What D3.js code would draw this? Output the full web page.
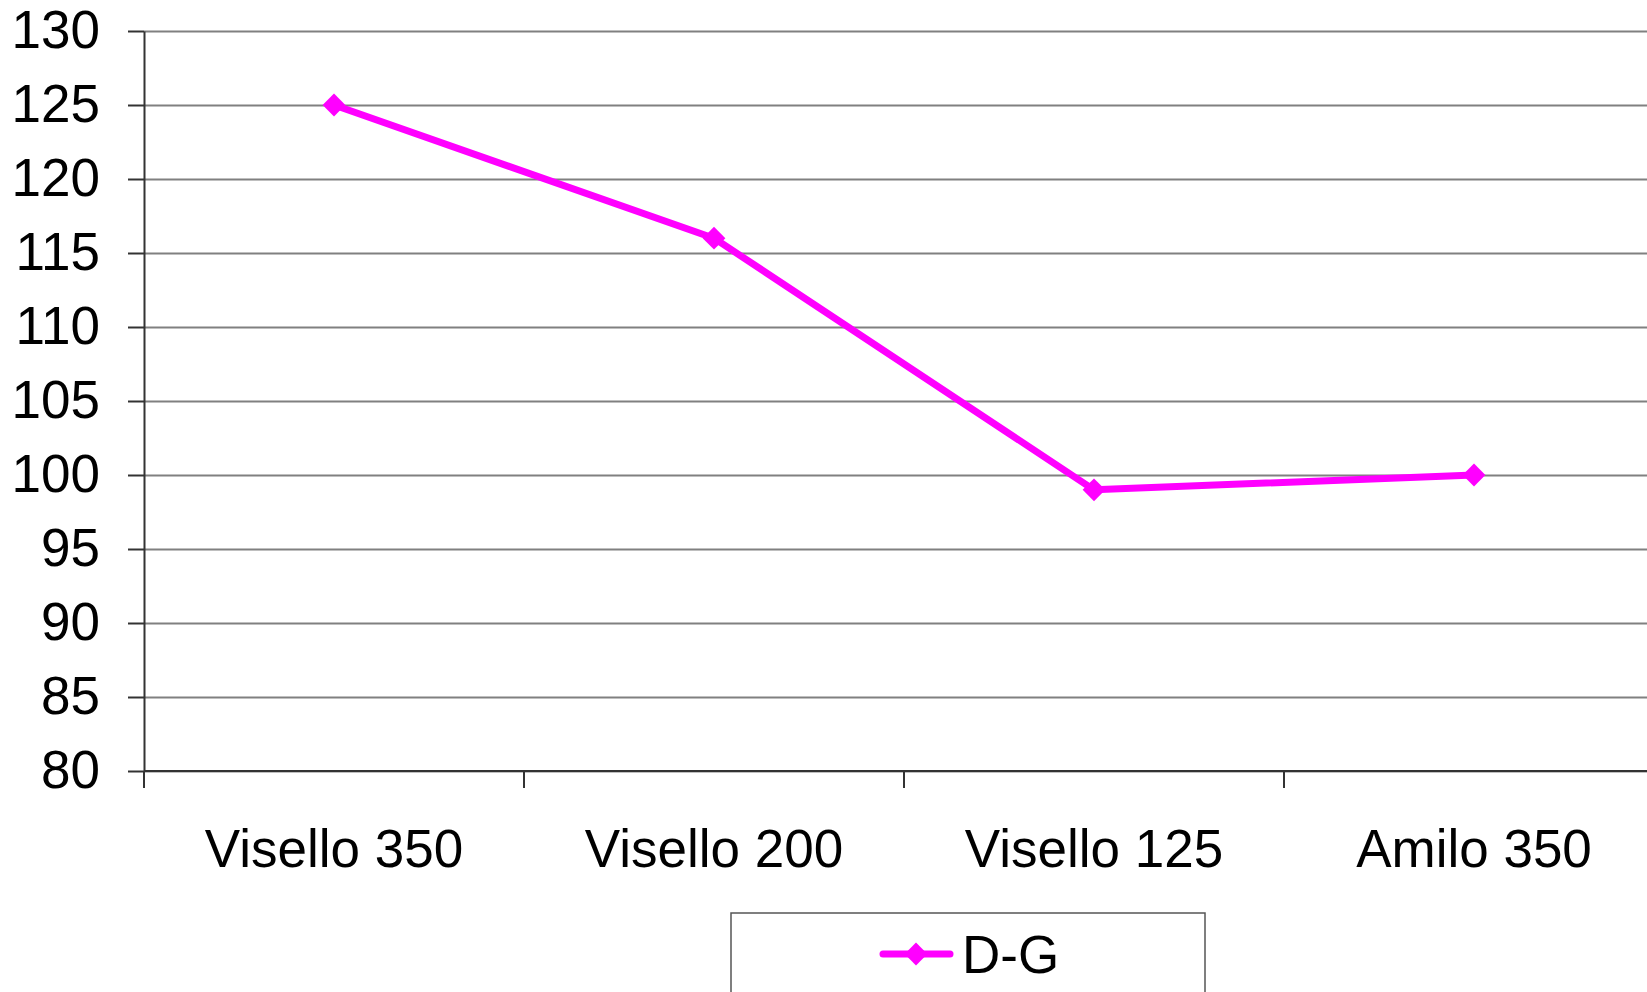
<!DOCTYPE html>
<html>
<head>
<meta charset="utf-8">
<script src="https://cdn.jsdelivr.net/npm/d3@7"></script>
<style>
  body { margin: 0; background: #fff; }
  svg { display: block; font-family: "Liberation Sans", Arial, sans-serif; }
</style>
</head>
<body>
<div id="chart"></div>
<script>
const categories = ["Visello 350", "Visello 200", "Visello 125", "Amilo 350"];
const seriesName = "D-G";
const values = [125, 116, 99, 100];
const yTicks = [80, 85, 90, 95, 100, 105, 110, 115, 120, 125, 130];

const width = 1647;
const height = 992;
const marginLeft = 144;
const plotRight = 1664;   // plot area runs past the right edge in the original
const plotTop = 31;
const plotBottom = 771;

const svg = d3.select("#chart")
    .append("svg")
    .attr("width", width)
    .attr("height", height);

const xScale = d3.scaleBand()
    .domain(categories)
    .range([marginLeft, plotRight])
    .padding(0);

const yScale = d3.scaleLinear()
    .domain([80, 130])
    .range([plotBottom, plotTop]);

// Gridlines
svg.append("g")
    .attr("transform", `translate(${marginLeft},0)`)
    .call(d3.axisLeft(yScale).tickValues(yTicks).tickSize(-(plotRight - marginLeft)).tickFormat(""))
    .call(g => g.select(".domain").remove())
    .call(g => g.selectAll("line").attr("stroke", "#808080").attr("stroke-width", 2));

// Y axis
const yAxis = svg.append("g")
    .attr("transform", `translate(${marginLeft},0)`)
    .call(d3.axisLeft(yScale).tickValues(yTicks).tickSize(16).tickPadding(28).tickSizeOuter(0));
yAxis.select(".domain").attr("stroke", "#333").attr("stroke-width", 2);
yAxis.selectAll("line").attr("stroke", "#333").attr("stroke-width", 2);
yAxis.selectAll("text")
    .attr("font-size", 53)
    .attr("fill", "#000")
    .attr("font-family", "Liberation Sans, Arial, sans-serif");

// X axis line
svg.append("line")
    .attr("x1", marginLeft).attr("x2", plotRight)
    .attr("y1", yScale(80)).attr("y2", yScale(80))
    .attr("stroke", "#333").attr("stroke-width", 2);

// X ticks at band edges
svg.append("g").selectAll("line")
    .data(categories)
    .enter()
    .append("line")
    .attr("x1", d => xScale(d)).attr("x2", d => xScale(d))
    .attr("y1", yScale(80)).attr("y2", yScale(80) + 17)
    .attr("stroke", "#333").attr("stroke-width", 2);

// X labels
svg.append("g").selectAll("text")
    .data(categories)
    .enter()
    .append("text")
    .attr("x", d => xScale(d) + xScale.bandwidth() / 2)
    .attr("y", 867)
    .attr("text-anchor", "middle")
    .attr("font-size", 53)
    .attr("fill", "#000")
    .text(d => d);

// Line
const line = d3.line()
    .x((d, i) => xScale(categories[i]) + xScale.bandwidth() / 2)
    .y(d => yScale(d));

svg.append("path")
    .datum(values)
    .attr("d", line)
    .attr("fill", "none")
    .attr("stroke", "#ff00ff")
    .attr("stroke-width", 7)
    .attr("stroke-linejoin", "round");

const diamond = d3.symbol().type(d3.symbolDiamond2).size(330);

svg.append("g").selectAll("path")
    .data(values)
    .enter()
    .append("path")
    .attr("d", diamond)
    .attr("transform", (d, i) => `translate(${xScale(categories[i]) + xScale.bandwidth() / 2},${yScale(d)})`)
    .attr("fill", "#ff00ff");

// Legend
const legend = svg.append("g");
legend.append("rect")
    .attr("x", 731).attr("y", 913)
    .attr("width", 474).attr("height", 120)
    .attr("fill", "#fff")
    .attr("stroke", "#555")
    .attr("stroke-width", 1.5);
legend.append("line")
    .attr("x1", 883).attr("x2", 950)
    .attr("y1", 954).attr("y2", 954)
    .attr("stroke", "#ff00ff")
    .attr("stroke-width", 7)
    .attr("stroke-linecap", "round");
legend.append("path")
    .attr("d", diamond)
    .attr("transform", "translate(916,954)")
    .attr("fill", "#ff00ff");
legend.append("text")
    .attr("x", 962).attr("y", 973)
    .attr("font-size", 53)
    .attr("fill", "#000")
    .text(seriesName);
</script>
</body>
</html>
